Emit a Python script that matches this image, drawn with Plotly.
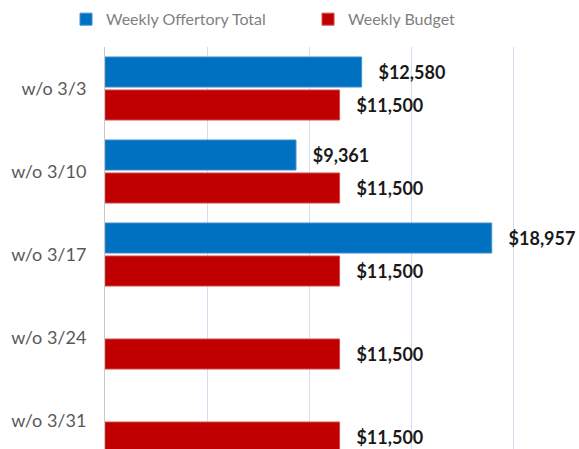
import plotly.graph_objects as go

categories = ["w/o 3/3", "w/o 3/10", "w/o 3/17", "w/o 3/24", "w/o 3/31"]
offertory = [12580, 9361, 18957, None, None]
budget = [11500, 11500, 11500, 11500, 11500]

NB = "\u00a0"
label_font = dict(family="Lato", size=18, color="#1a1a1a")

fig = go.Figure()
fig.add_trace(go.Bar(
    y=categories, x=offertory, orientation="h", name="Weekly Offertory Total",
    marker=dict(color="#0070c0", line=dict(color="#3d8fd1", width=1)),
    texttemplate=NB * 3 + "<b>$%{x:,}</b>", textposition="outside",
    textfont=label_font, cliponaxis=False, legend="legend",
))
fig.add_trace(go.Bar(
    y=categories, x=budget, orientation="h", name="Weekly Budget",
    marker=dict(color="#c00000", line=dict(color="#d44a4a", width=1)),
    texttemplate=NB * 3 + "<b>$%{x:,}</b>", textposition="outside",
    textfont=label_font, cliponaxis=False, legend="legend2",
))

legend_common = dict(
    orientation="h", xanchor="left", xref="container",
    yref="container", y=0.995, yanchor="top",
    font=dict(family="Lato", size=16, color="#7f7f7f"),
    itemwidth=30, bgcolor="rgba(0,0,0,0)",
)

fig.update_layout(
    width=579, height=449,
    margin=dict(l=105, r=0, t=47, b=0, autoexpand=False),
    paper_bgcolor="white", plot_bgcolor="white",
    barmode="group", bargap=0.205, bargroupgap=0.09,
    font=dict(family="Lato", color="#595959"),
    showlegend=True,
    legend=dict(x=0.114, **legend_common),
    legend2=dict(x=0.532, **legend_common),
)
fig.update_xaxes(
    range=[0, 23235], dtick=5000, tick0=0, automargin=False,
    showgrid=True, gridcolor="#d3def0", gridwidth=1,
    showticklabels=False, zeroline=False, showline=False,
)
fig.update_yaxes(
    range=[4.343, -0.5], showline=True, linecolor="#c8c8c8", linewidth=1,
    showgrid=False, tickfont=dict(family="Lato", size=18, color="#595959"),
    ticks="", ticklabelstandoff=14, automargin=False,
)

fig.write_html(
    "out.html",
    config={"displayModeBar": False},
    post_script="document.body.style.margin='0';document.body.style.overflow='hidden';",
)
